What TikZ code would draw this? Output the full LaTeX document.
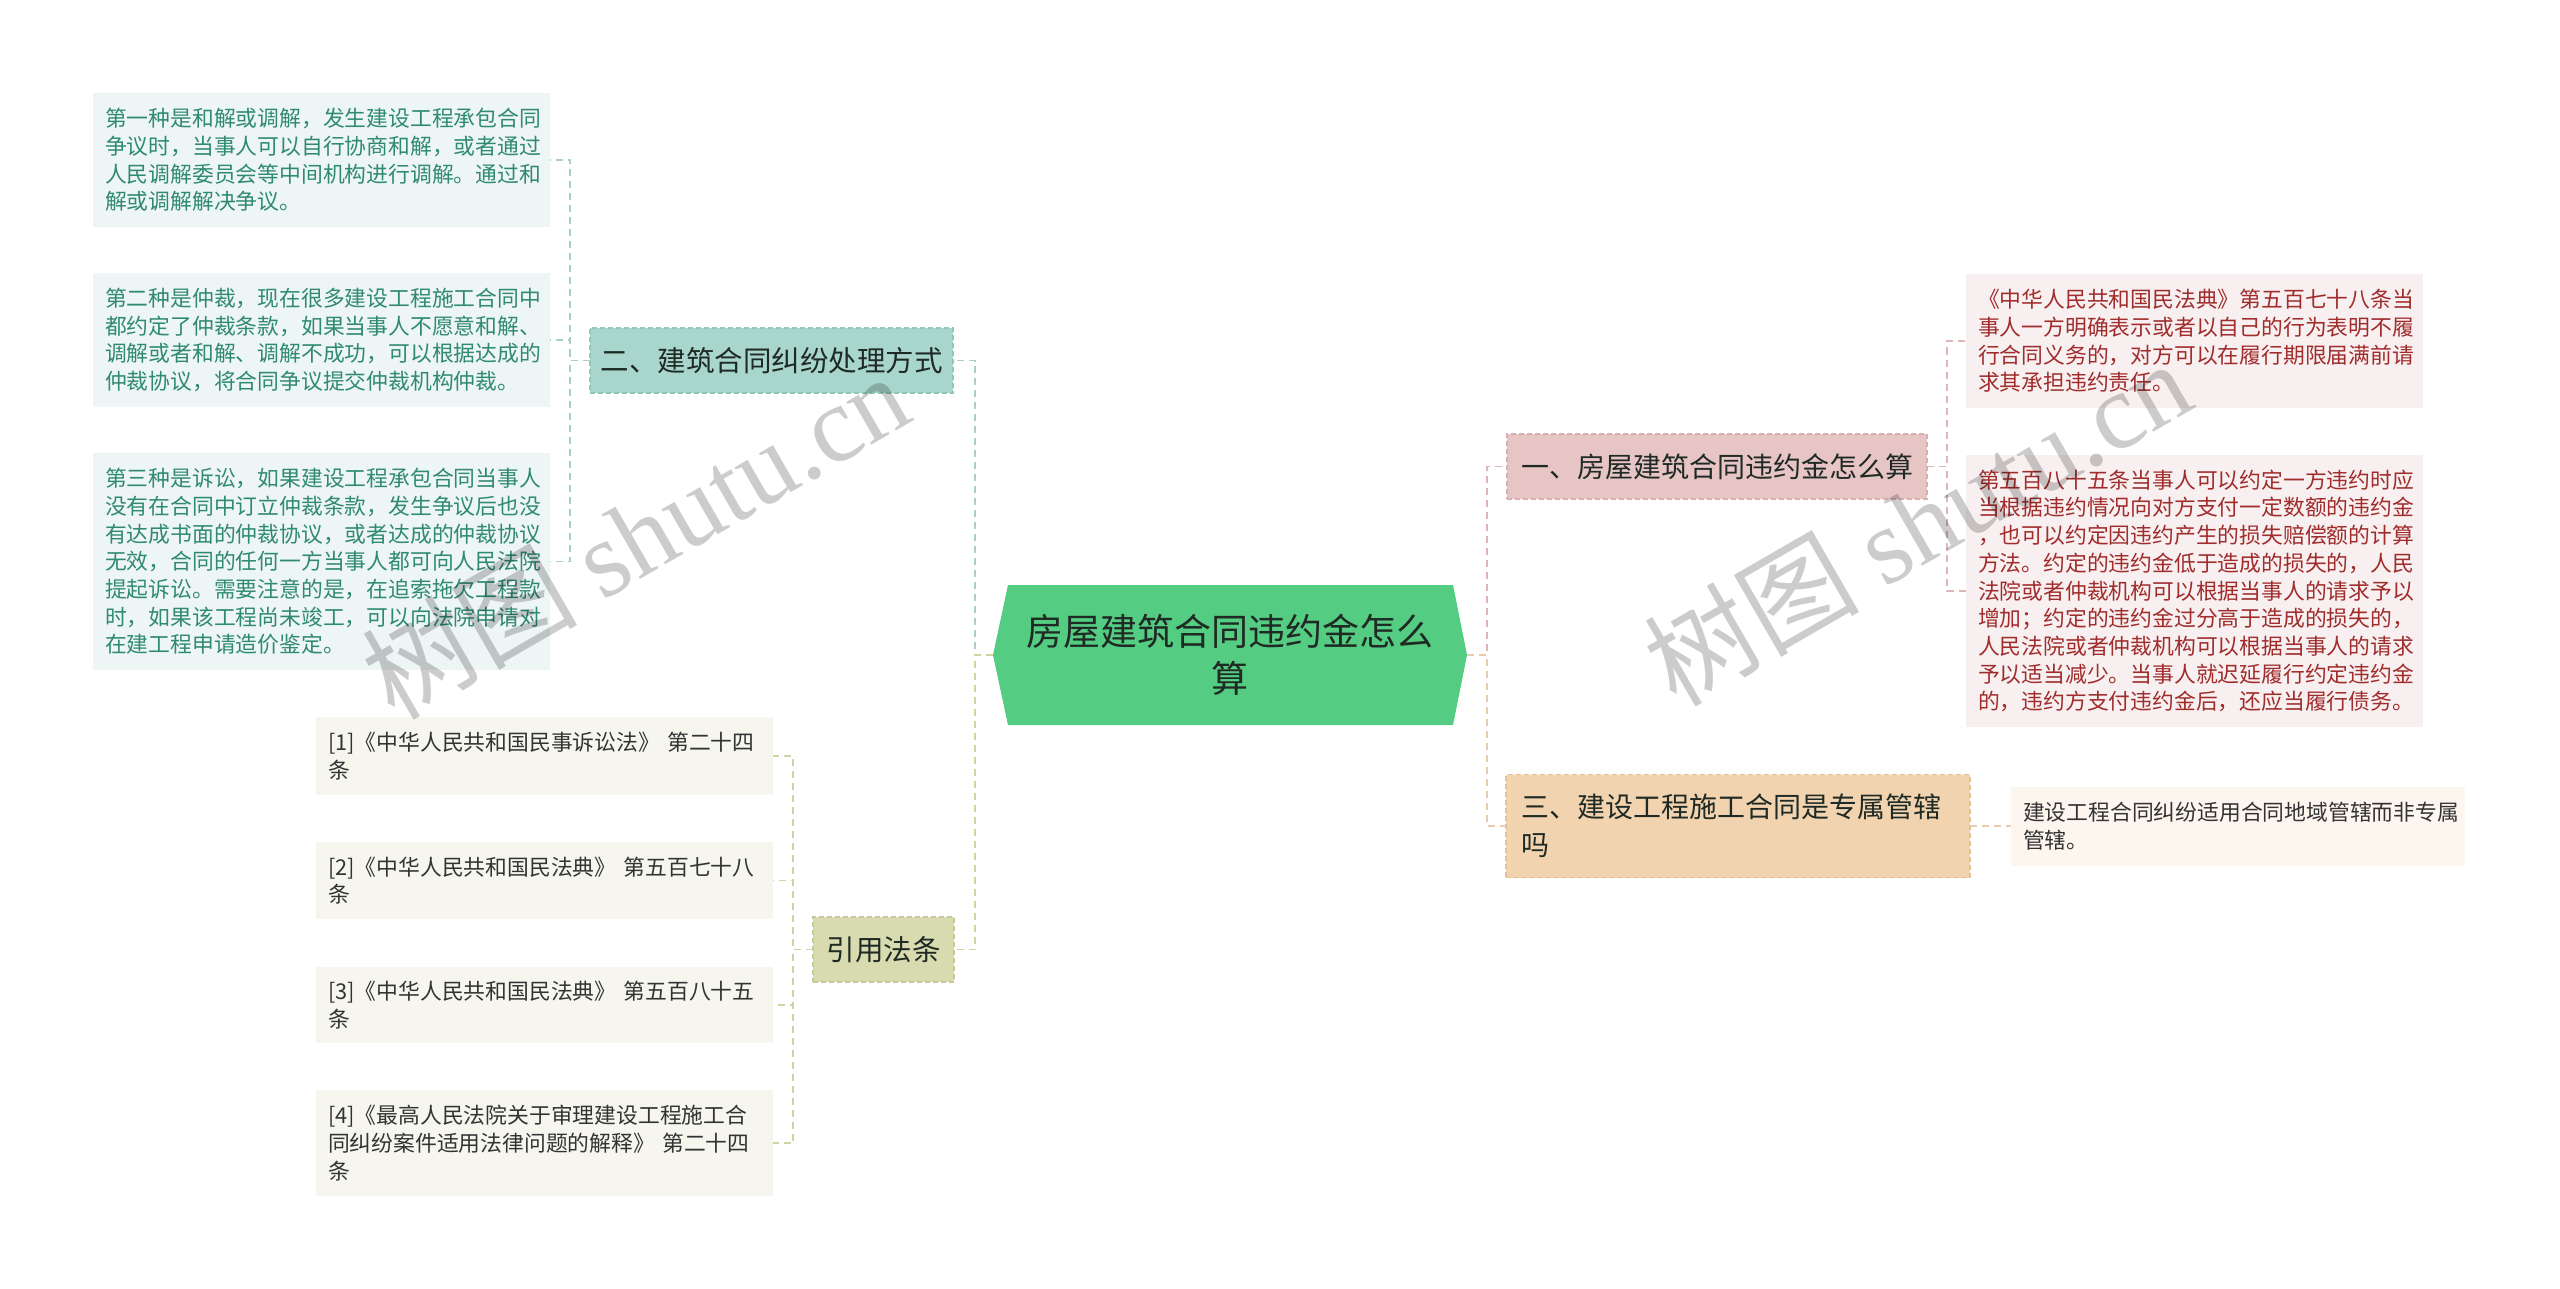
\documentclass[tikz,border=0pt]{standalone}
\usepackage{fontspec}
\setmainfont{Noto Sans CJK SC}
\newfontfamily\wmlatin{Liberation Serif}
\usetikzlibrary{backgrounds}
\definecolor{cgreen}{HTML}{54CC82}
\definecolor{ctext}{HTML}{1F2A24}
\definecolor{tealfill}{HTML}{A9D6CC}
\definecolor{tealdraw}{HTML}{92C6BA}
\definecolor{pinkfill}{HTML}{E8C5C5}
\definecolor{pinkdraw}{HTML}{D8AEAE}
\definecolor{peachfill}{HTML}{F2D3B0}
\definecolor{peachdraw}{HTML}{E4BF98}
\definecolor{olivefill}{HTML}{D7DBAF}
\definecolor{olivedraw}{HTML}{C5CA98}
\definecolor{lgfill}{HTML}{EEF6F5}
\definecolor{lgtext}{HTML}{2F8A70}
\definecolor{lpfill}{HTML}{F8F0F0}
\definecolor{lptext}{HTML}{A02C2C}
\definecolor{lofill}{HTML}{FDF6EE}
\definecolor{lyfill}{HTML}{F6F6EF}
\definecolor{dtext}{HTML}{333333}
\definecolor{lnteal}{HTML}{A8D0C7}
\definecolor{lnpink}{HTML}{DDB6B6}
\definecolor{lnpeach}{HTML}{E8CCAE}
\definecolor{lnolive}{HTML}{D0D4A2}
\begin{document}
\begin{tikzpicture}[x=1pt,y=-1pt,
  box/.style={rectangle, inner sep=0pt, outer sep=0pt},
  topic/.style={box, draw, dashed, dash pattern=on 5pt off 3pt, line width=1.2pt, text=ctext, minimum height=65, align=center},
  leafbox/.style={box, inner xsep=12pt, align=left, font=\fontsize{21.8}{27.7}\selectfont},
  lgleaf/.style={leafbox, fill=lgfill, text=lgtext},
  lpleaf/.style={leafbox, fill=lpfill, text=lptext},
  loleaf/.style={leafbox, fill=lofill, text=dtext},
  lyleaf/.style={leafbox, fill=lyfill, text=dtext},
  link/.style={dashed, dash pattern=on 7pt off 5pt, line width=1.8pt},
  wm/.style={rotate=30, text=black, opacity=0.2, font=\fontsize{108}{108}\selectfont}
]
\useasboundingbox (0,0) rectangle (2560,1289);

% root
\node[box, minimum width=474, minimum height=140, align=center, text=ctext,
  font=\fontsize{37}{47}\selectfont] (root) at (1230,655) {房屋建筑合同违约金怎么\\算};
\begin{scope}[on background layer]
\fill[white] (0,0) rectangle (2560,1289);
\fill[cgreen] (root.west) -- ([xshift=15]root.north west) -- ([xshift=-14]root.north east)
  -- (root.east) -- ([xshift=-14]root.south east) -- ([xshift=15]root.south west) -- cycle;
\end{scope}

% main branches
\node[topic, fill=tealfill, draw=tealdraw, minimum width=363, font=\fontsize{28.5}{36}\selectfont] (b2) at (771.5,360.5) {二、建筑合同纠纷处理方式};
\node[topic, fill=olivefill, draw=olivedraw, minimum width=141, font=\fontsize{28.5}{36}\selectfont] (b4) at (883.5,949.5) {引用法条};
\node[topic, fill=pinkfill, draw=pinkdraw, minimum width=420, font=\fontsize{28}{36}\selectfont] (b1) at (1717,466.5) {一、房屋建筑合同违约金怎么算};
\node[topic, fill=peachfill, draw=peachdraw, minimum width=464, minimum height=103, inner xsep=15pt, text width=434, align=left, font=\fontsize{28}{38}\selectfont] (b3) at (1738,826) {三、建设工程施工合同是专属管辖\\吗};

% left leaves (branch 二)
\node[lgleaf, text width=433, minimum height=134] (l1) at (321.5,160) {第一种是和解或调解，发生建设工程承包合同\\争议时，当事人可以自行协商和解，或者通过\\人民调解委员会等中间机构进行调解。通过和\\解或调解解决争议。};
\node[lgleaf, text width=433, minimum height=134] (l2) at (321.5,340) {第二种是仲裁，现在很多建设工程施工合同中\\都约定了仲裁条款，如果当事人不愿意和解、\\调解或者和解、调解不成功，可以根据达成的\\仲裁协议，将合同争议提交仲裁机构仲裁。};
\node[lgleaf, text width=433, minimum height=217] (l3) at (321.5,561.5) {第三种是诉讼，如果建设工程承包合同当事人\\没有在合同中订立仲裁条款，发生争议后也没\\有达成书面的仲裁协议，或者达成的仲裁协议\\无效，合同的任何一方当事人都可向人民法院\\提起诉讼。需要注意的是，在追索拖欠工程款\\时，如果该工程尚未竣工，可以向法院申请对\\在建工程申请造价鉴定。};

% references (branch 引用法条)
\node[lyleaf, text width=433, minimum height=78] (r1) at (544.5,756) {[1]《中华人民共和国民事诉讼法》 第二十四\\条};
\node[lyleaf, text width=433, minimum height=77] (r2) at (544.5,880.5) {[2]《中华人民共和国民法典》 第五百七十八\\条};
\node[lyleaf, text width=433, minimum height=76] (r3) at (544.5,1005) {[3]《中华人民共和国民法典》 第五百八十五\\条};
\node[lyleaf, text width=433, minimum height=106] (r4) at (544.5,1143) {[4]《最高人民法院关于审理建设工程施工合\\同纠纷案件适用法律问题的解释》 第二十四\\条};

% right leaves (branch 一)
\node[lpleaf, text width=433, minimum height=134] (p1) at (2194.5,341) {《中华人民共和国民法典》第五百七十八条当\\事人一方明确表示或者以自己的行为表明不履\\行合同义务的，对方可以在履行期限届满前请\\求其承担违约责任。};
\node[lpleaf, text width=433, minimum height=272] (p2) at (2194.5,591) {第五百八十五条当事人可以约定一方违约时应\\当根据违约情况向对方支付一定数额的违约金\\，也可以约定因违约产生的损失赔偿额的计算\\方法。约定的违约金低于造成的损失的，人民\\法院或者仲裁机构可以根据当事人的请求予以\\增加；约定的违约金过分高于造成的损失的，\\人民法院或者仲裁机构可以根据当事人的请求\\予以适当减少。当事人就迟延履行约定违约金\\的，违约方支付违约金后，还应当履行债务。};

% right leaf (branch 三)
\node[loleaf, text width=430, minimum height=79] (q1) at (2238,826) {建设工程合同纠纷适用合同地域管辖而非专属\\管辖。};

% connectors
\draw[link, draw=lnteal] (root.west) -- ++(-18,0) |- (b2.east);
\draw[link, draw=lnolive] (root.west) -- ++(-18,0) |- (b4.east);
\draw[link, draw=lnpink] (root.east) -- ++(20,0) |- (b1.west);
\draw[link, draw=lnpeach] (root.east) -- ++(20,0) |- (b3.west);

\draw[link, draw=lnteal] (b2.west) -- ++(-20,0) |- (l1.east);
\draw[link, draw=lnteal] (b2.west) -- ++(-20,0) |- (l2.east);
\draw[link, draw=lnteal] (b2.west) -- ++(-20,0) |- (l3.east);

\draw[link, draw=lnolive] (b4.west) -- ++(-20,0) |- (r1.east);
\draw[link, draw=lnolive] (b4.west) -- ++(-20,0) |- (r2.east);
\draw[link, draw=lnolive] (b4.west) -- ++(-20,0) |- (r3.east);
\draw[link, draw=lnolive] (b4.west) -- ++(-20,0) |- (r4.east);

\draw[link, draw=lnpink] (b1.east) -- ++(20,0) |- (p1.west);
\draw[link, draw=lnpink] (b1.east) -- ++(20,0) |- (p2.west);

\draw[link, draw=lnpeach] (b3.east) -- (q1.west);

% watermarks
\node[wm] (wm1) at (635,535) {树图 {\wmlatin shutu.cn}};
\node[wm] (wm2) at (1917,522) {树图 {\wmlatin shutu.cn}};
\end{tikzpicture}
\end{document}
